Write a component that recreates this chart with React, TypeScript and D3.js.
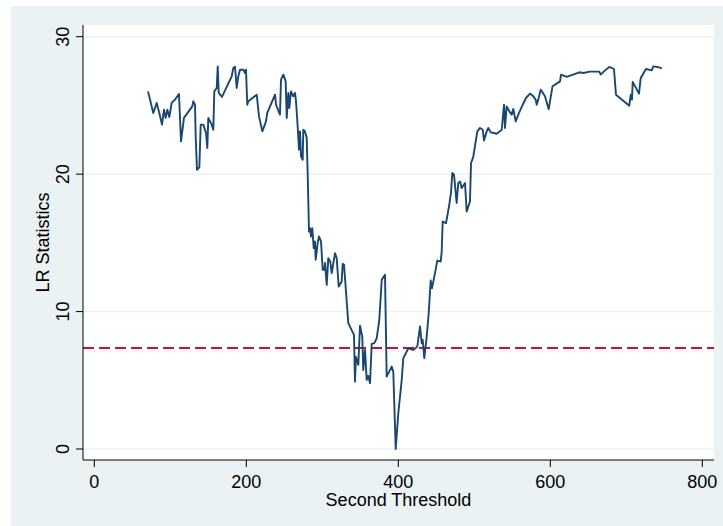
import React from "react";
import * as d3 from "d3";

const thresholds = [70.7,77.6,82.1,85.5,89.1,91.7,93.9,96.1,98.7,101.8,106.2,111.4,114.1,118.0,128.9,130.3,132.5,133.4,135.1,138.2,140.0,143.4,147.0,148.7,150.0,154.5,156.6,157.9,161.1,162.4,163.7,168.0,180.8,182.9,185.1,187.4,189.5,191.7,196.1,198.3,199.6,201.3,202.6,213.7,216.7,221.1,225.9,227.6,237.8,239.1,244.3,245.7,248.7,251.8,253.2,255.3,256.6,258.8,261.8,264.1,265.4,267.6,269.3,270.7,272.0,274.2,275.0,277.2,279.5,280.8,282.5,283.8,285.1,286.8,288.7,290.4,291.3,293.9,295.7,298.3,300.5,302.6,303.6,305.8,307.9,310.5,312.4,316.7,318.9,321.6,325.5,326.8,328.6,334.2,341.7,343.0,344.3,347.4,349.6,352.6,353.9,356.2,358.4,360.5,362.8,365.0,368.4,371.6,375.0,378.2,382.5,384.7,391.3,393.4,396.6,400.0,404.5,406.6,413.2,419.7,425.0,428.6,430.8,432.1,434.2,437.4,440.0,442.6,444.3,448.3,451.3,455.8,457.1,458.4,462.8,467.1,468.0,469.3,471.1,473.3,476.8,478.9,481.2,483.4,487.8,490.0,494.3,495.7,497.4,498.7,504.0,507.5,511.1,512.8,516.3,518.4,521.6,529.5,536.1,539.1,540.4,542.6,546.1,549.2,551.3,554.5,557.9,563.7,568.0,573.3,577.6,580.8,582.1,584.2,587.4,593.0,597.9,602.9,612.8,614.1,621.6,638.2,643.4,652.2,664.5,666.3,672.0,677.6,683.8,686.4,703.9,705.8,707.5,708.4,716.7,719.0,725.9,733.4,735.5,740.8,747.0];

const lrStats = [26.02,24.45,25.18,24.45,23.60,24.69,24.09,24.69,24.16,25.18,25.42,25.83,22.38,24.09,24.93,25.30,25.05,22.75,20.32,20.49,23.60,23.60,22.99,21.90,24.09,23.60,23.23,26.02,26.27,27.84,25.91,25.62,27.12,27.73,27.82,26.27,27.12,27.60,27.60,27.36,27.60,25.05,25.30,25.78,24.20,23.11,23.84,24.45,25.78,25.05,24.33,26.88,27.24,26.75,24.09,25.91,24.81,26.02,25.66,25.91,25.30,23.47,21.78,23.11,21.29,21.05,23.23,23.11,22.63,19.96,15.83,16.07,15.46,16.07,14.62,15.10,13.77,14.98,15.46,15.10,13.04,13.04,13.53,11.94,13.89,13.64,12.80,14.25,13.89,11.82,12.18,13.47,13.40,9.16,8.30,4.90,6.72,6.12,8.98,8.18,5.75,7.21,5.03,5.32,4.79,7.65,7.70,8.06,9.40,12.31,12.67,5.27,5.99,5.63,0.0,2.60,5.03,6.61,7.33,7.21,7.45,8.91,7.70,7.94,6.61,8.18,9.88,12.26,11.70,12.80,13.71,13.64,14.37,16.55,16.44,17.77,18.14,18.62,20.08,19.96,17.90,19.35,19.47,18.99,19.35,17.28,18.01,20.81,21.05,21.29,23.11,23.36,23.23,22.45,23.11,23.36,23.04,22.94,23.23,25.05,23.36,24.93,24.57,24.33,24.74,23.84,24.33,25.05,25.54,25.86,25.66,25.42,25.05,25.42,26.15,25.66,24.73,26.39,26.75,27.24,27.07,27.41,27.36,27.46,27.46,27.24,27.55,27.80,27.65,25.78,24.98,25.78,25.42,26.71,25.86,27.00,27.65,27.55,27.84,27.80,27.70];

const criticalValue = 7.35;
const xTicks = [0, 200, 400, 600, 800];
const yTicks = [0, 10, 20, 30];
const xTitle = "Second Threshold";
const yTitle = "LR Statistics";

export default function App() {
  const W = 723, H = 526;
  const plot = { left: 83, right: 714, top: 25, bottom: 460 };
  const x = d3.scaleLinear().domain([0, 800]).range([94.3, 702.3]);
  const y = d3.scaleLinear().domain([0, 30]).range([449, 36.7]);
  const pts = thresholds.map((t, i) => [t, lrStats[i]] as [number, number]);
  const line = d3.line<[number, number]>().x(d => x(d[0])).y(d => y(d[1]));
  const font = "'Liberation Sans', Arial, Helvetica, sans-serif";
  return (
    <svg width={W} height={H} style={{ position: "absolute", left: 0, top: 0, background: "#ffffff" }} fontFamily={font}>
      <rect x={11} y={6} width={W - 11} height={H - 6} fill="#eaf2f3" />
      <rect x={plot.left} y={plot.top} width={plot.right - plot.left} height={plot.bottom - plot.top} fill="#ffffff" />
      {yTicks.map(t => (
        <line key={"g" + t} x1={plot.left} x2={plot.right} y1={y(t)} y2={y(t)} stroke="#eaf2f3" strokeWidth={1.5} />
      ))}
      <line x1={plot.left} x2={plot.right} y1={y(criticalValue)} y2={y(criticalValue)} stroke="#c8103c" strokeWidth={2} strokeDasharray="11 5" />
      <path d={line(pts) || ""} fill="none" stroke="#1a476f" strokeWidth={1.9} strokeLinejoin="round" />
      <line x1={plot.left} x2={plot.left} y1={plot.top} y2={plot.bottom} stroke="#000" strokeWidth={1} />
      <line x1={plot.left} x2={plot.right} y1={plot.bottom} y2={plot.bottom} stroke="#000" strokeWidth={1} />
      {yTicks.map(t => (
        <g key={"y" + t}>
          <line x1={plot.left - 7} x2={plot.left} y1={y(t)} y2={y(t)} stroke="#000" strokeWidth={1} />
          <text transform={`translate(68.5,${y(t)}) rotate(-90)`} textAnchor="middle" fontSize={18} fill="#000">{t}</text>
        </g>
      ))}
      {xTicks.map(t => (
        <g key={"x" + t}>
          <line x1={x(t)} x2={x(t)} y1={plot.bottom} y2={plot.bottom + 7} stroke="#000" strokeWidth={1} />
          <text x={x(t)} y={488} textAnchor="middle" fontSize={18} fill="#000">{t}</text>
        </g>
      ))}
      <text x={(plot.left + plot.right) / 2} y={505.5} textAnchor="middle" fontSize={18} fill="#000">{xTitle}</text>
      <text transform={`translate(49,${(plot.top + plot.bottom) / 2}) rotate(-90)`} textAnchor="middle" fontSize={18} fill="#000">{yTitle}</text>
    </svg>
  );
}
